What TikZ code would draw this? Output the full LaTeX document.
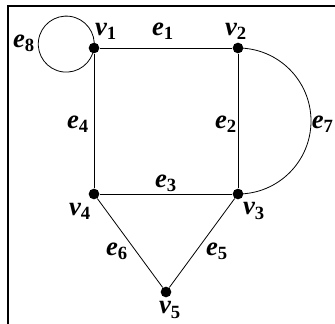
\documentclass[tikz,border=0pt]{standalone}
\usepackage{fontspec}
\setmainfont{Liberation Serif}
\usetikzlibrary{positioning}
\tikzset{
  vtx/.style={circle, fill=black, inner sep=0pt, minimum size=8pt},
  lbl/.style={font=\fontsize{20}{20}\selectfont\bfseries\itshape, inner sep=0pt},
  edge/.style={line width=0.6pt, draw=black},
  frame/.style={line width=0.8pt, draw=black},
}
\newcommand{\gl}[2]{#1\textsubscript{\upshape#2}}

\begin{document}
\begin{tikzpicture}[x=0.75pt, y=-0.75pt]
  \useasboundingbox (0,0) rectangle (335,324);
  % frame
  \coordinate (ftl) at (8,6);
  \draw[frame] (8,324) -- (ftl) -- (335,6);
  % vertices
  \node[vtx] (v1) at (94,48) {};
  \node[vtx] (v2) at (238,48) {};
  \node[vtx] (v3) at (238,194) {};
  \node[vtx] (v4) at (94,194) {};
  \node[vtx] (v5) at (166,292) {};
  % edges
  \draw[edge] (v1) -- (v2);
  \draw[edge] (v2) -- (v3);
  \draw[edge] (v3) -- (v4);
  \draw[edge] (v4) -- (v1);
  \draw[edge] (v3) -- (v5);
  \draw[edge] (v4) -- (v5);
  \draw[edge] (v2.center) arc[start angle=-90, end angle=90, radius=73];
  \draw[edge] (v1.center) arc[start angle=8, delta angle=360, radius=28];
  % labels
  \node[lbl] (lv1) at (106,31) {\gl{v}{1}};
  \node[lbl] (lv2) at (236,31) {\gl{v}{2}};
  \node[lbl] (lv3) at (254,211) {\gl{v}{3}};
  \node[lbl] (lv4) at (80,211) {\gl{v}{4}};
  \node[lbl] (lv5) at (170,310) {\gl{v}{5}};
  \node[lbl] (le1) at (163,31) {\gl{e}{1}};
  \node[lbl] (le2) at (226,124) {\gl{e}{2}};
  \node[lbl] (le3) at (166,183) {\gl{e}{3}};
  \node[lbl] (le4) at (78,124) {\gl{e}{4}};
  \node[lbl] (le5) at (217,251) {\gl{e}{5}};
  \node[lbl] (le6) at (117,251) {\gl{e}{6}};
  \node[lbl, anchor=east] (le7) at (334,124) {\gl{e}{7}};
  \node[lbl] (le8) at (24,43) {\gl{e}{8}};
\end{tikzpicture}
\end{document}
